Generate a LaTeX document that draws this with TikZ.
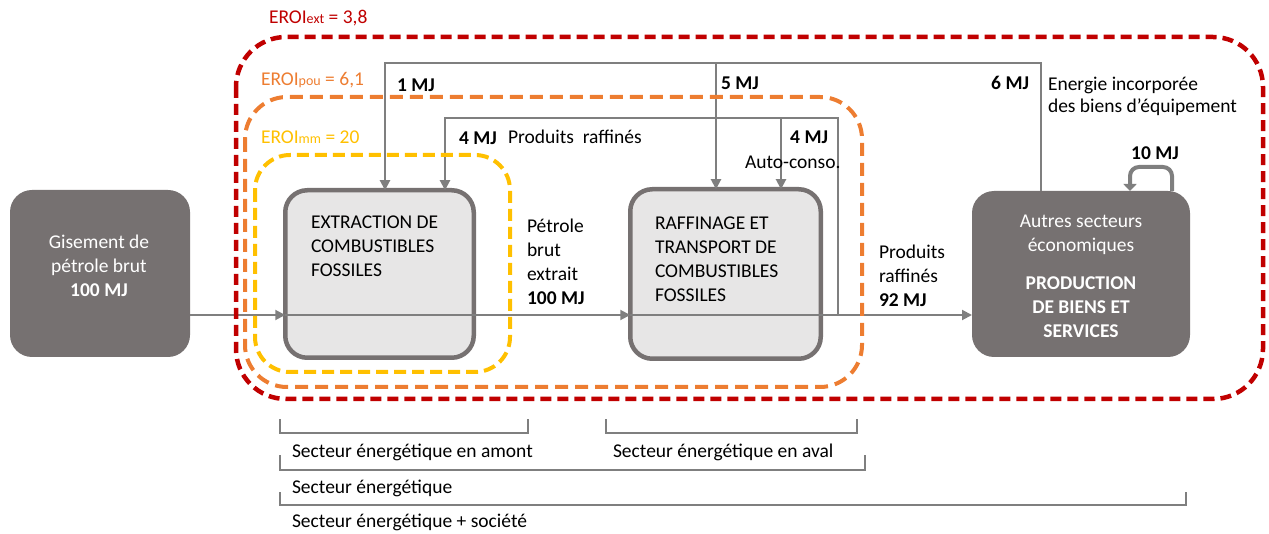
\documentclass[tikz,border=0pt]{standalone}
\usepackage{fontspec}
\setmainfont{Carlito}
\usetikzlibrary{arrows.meta}
\definecolor{boxgray}{HTML}{767171}
\definecolor{lightfill}{HTML}{E7E6E6}
\definecolor{linegray}{HTML}{7F7F7F}
\definecolor{eroired}{HTML}{C00000}
\definecolor{eroiorange}{HTML}{ED7D31}
\definecolor{eroiyellow}{HTML}{FFC000}
\newcommand{\mainfs}{\fontsize{19.5}{24}\selectfont}
\begin{document}
\begin{tikzpicture}[x=1pt,y=-1pt,
  every node/.style={inner sep=0pt, outer sep=0pt, font=\mainfs},
  darkbox/.style={fill=boxgray, draw=none, rounded corners=22pt},
  lightbox/.style={fill=lightfill, draw=boxgray, line width=4.5pt, rounded corners=22pt},
  flowline/.style={draw=linegray, line width=2pt},
  flowarrow/.style={flowline, -{Triangle[length=10pt,width=10pt]}},
  looparrow/.style={draw=linegray, line width=4pt, rounded corners=9pt, -{Triangle[length=7pt,width=13pt]}},
  whitetext/.style={text=white},
  boldlabel/.style={font=\mainfs\bfseries},
  bracketline/.style={draw=linegray, line width=1.5pt},
  eroiext/.style={draw=eroired, line width=4.5pt, rounded corners=50pt, dash pattern=on 11pt off 6pt},
  eroipou/.style={draw=eroiorange, line width=4pt, rounded corners=42pt, dash pattern=on 13pt off 7pt},
  eroimm/.style={draw=eroiyellow, line width=4pt, rounded corners=35pt, dash pattern=on 12pt off 6pt}
]
\useasboundingbox (0,0) rectangle (1269,534);

% boxes
\node[darkbox, minimum width=180pt, minimum height=167pt] (gis) at (100,273.5) {};
\node[lightbox, minimum width=188.5pt, minimum height=167.5pt] (ext) at (379.5,274) {};
\node[lightbox, minimum width=190.5pt, minimum height=169.5pt] (raf) at (725.5,274) {};
\node[darkbox, minimum width=218pt, minimum height=166pt] (aut) at (1081,274) {};

% box texts
\node[whitetext, align=center] (gistxt) at (99,266) {Gisement de\\pétrole brut\\\textbf{100 MJ}};
\node[align=left, anchor=west] (exttxt) at (311,246) {EXTRACTION DE\\COMBUSTIBLES\\FOSSILES};
\node[align=left, anchor=west] (raftxt) at (655,259) {RAFFINAGE ET\\TRANSPORT DE\\COMBUSTIBLES\\FOSSILES};
\node[whitetext, align=center] (auttxt) at (1081,235) {Autres secteurs\\économiques};
\node[whitetext, align=center, font=\mainfs\bfseries] (prodtxt) at (1081,307) {PRODUCTION\\DE BIENS ET\\SERVICES};

% helper coordinates
\coordinate (flow) at (0,315);
\coordinate (topA) at (0,63);
\coordinate (topB) at (0,118);
\coordinate (ltop) at (0,167);
\coordinate (xB) at (838,0);
\coordinate (e1) at (385,0);
\coordinate (e2) at (445,0);
\coordinate (r1) at (716,0);
\coordinate (r2) at (781,0);
\coordinate (a1) at (1041,0);
\coordinate (l1) at (1172,0);
\coordinate (l2) at (1130,0);

% main flow
\draw[flowarrow] (gis.east |- flow) -- (ext.west |- flow);
\draw[flowarrow] (ext.west |- flow) -- (raf.west |- flow);
\draw[flowarrow] (raf.west |- flow) -- (aut.west |- flow);

% auto-consumption loop
\draw[flowarrow] (xB |- flow) -- (xB |- topB) -- (e2 |- topB) -- (e2 |- ext.north);
\draw[flowarrow] (r2 |- topB) -- (r2 |- raf.north);

% embodied energy loop
\draw[flowarrow] (a1 |- aut.north) -- (a1 |- topA) -- (e1 |- topA) -- (e1 |- ext.north);
\draw[flowarrow] (r1 |- topA) -- (r1 |- raf.north);

% self loop
\draw[looparrow] (l1 |- aut.north) -- (l1 |- ltop) -- (l2 |- ltop) -- (l2 |- aut.north);

% flow labels
\node[align=left, anchor=west] (petlbl) at (527,262) {Pétrole\\brut\\extrait\\\textbf{100 MJ}};
\node[align=left, anchor=west] (prodlbl) at (879,276) {Produits\\raffinés\\\textbf{92 MJ}};
\node[boldlabel, anchor=west] (mj1) at (397,85) {1 MJ};
\node[boldlabel, anchor=west] (mj5) at (721,83) {5 MJ};
\node[boldlabel, anchor=east] (mj6) at (1029,83) {6 MJ};
\node[boldlabel, anchor=west] (mj4a) at (459,138) {4 MJ};
\node[anchor=west] (prlbl) at (508,137) {Produits\ \ raffinés};
\node[boldlabel, anchor=east] (mj4b) at (828,137) {4 MJ};
\node[anchor=west] (autolbl) at (745,162) {Auto-conso.};
\node[align=left, anchor=west, font=\fontsize{19.5}{22}\selectfont] (enlbl) at (1048,96) {Energie incorporée\\des biens d’équipement};
\node[boldlabel] (mj10) at (1155,153) {10 MJ};

% EROI boundaries
\draw[eroiext] (236,37) rectangle (1263,399);
\draw[eroipou] (245,97) rectangle (862,387);
\draw[eroimm] (255,155) rectangle (510,372);
\node[anchor=west, text=eroired] (lext) at (269,18) {EROI{\fontsize{14}{14}\selectfont ext} = 3,8};
\node[anchor=west, text=eroiorange] (lpou) at (261,80) {EROI{\fontsize{14}{14}\selectfont pou} = 6,1};
\node[anchor=west, text=eroiyellow] (lmm) at (261,137) {EROI{\fontsize{14}{14}\selectfont mm} = 20};

% brackets
\draw[bracketline] (280,419) -- (280,433) -- (528,433) -- (528,419);
\draw[bracketline] (606,419) -- (606,433) -- (857,433) -- (857,419);
\draw[bracketline] (280,455) -- (280,470) -- (865,470) -- (865,455);
\draw[bracketline] (280,492) -- (280,505) -- (1186,505) -- (1186,492);
\node[anchor=west] (s1) at (292,452) {Secteur énergétique en amont};
\node[anchor=west] (s2) at (613,452) {Secteur énergétique en aval};
\node[anchor=west] (s3) at (292,488) {Secteur énergétique};
\node[anchor=west] (s4) at (292,522) {Secteur énergétique + société};
\end{tikzpicture}
\end{document}
